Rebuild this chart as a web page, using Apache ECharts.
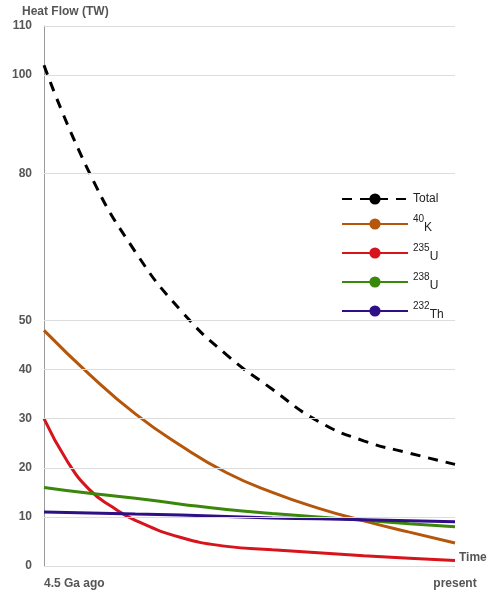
<!DOCTYPE html>
<html><head><meta charset="utf-8">
<script src="https://cdn.jsdelivr.net/npm/echarts@6/dist/echarts.min.js"></script>
<style>html,body{margin:0;background:#fff}#c{width:500px;height:598px}</style>
</head><body><div id="c"></div>
<script>
// time in Ga since 4.5 Ga ago
var tCoarse = [0, 0.5, 1, 1.5, 2, 2.5, 3, 3.5, 4, 4.5];
var total = [102, 80, 64, 52, 43, 36, 29.5, 25.5, 23, 20.7];
var k40 = [48, 39, 31, 24.5, 19, 15, 11.8, 9.2, 6.9, 4.7];
var tU235 = [0, 0.25, 0.5, 0.75, 1, 1.5, 2, 2.5, 3, 3.5, 4, 4.5];
var u235 = [30, 21.5, 15.5, 12, 9.3, 5.8, 4, 3.3, 2.7, 2.1, 1.6, 1.1];
var u238 = [16, 14.8, 13.8, 12.6, 11.5, 10.7, 10, 9.3, 8.6, 8];
var th232 = [11, 10.8, 10.6, 10.4, 10.1, 9.8, 9.6, 9.4, 9.2, 9];
var yTicks = [0, 10, 20, 30, 40, 50, 80, 100, 110];

function pairs(xs, ys) { return xs.map(function (x, i) { return [x, ys[i]]; }); }

var chart = echarts.init(document.getElementById('c'));
var rich = { sup: { fontSize: 10, verticalAlign: 'top', padding: [0, 0, 6, 0], color: '#222' },
  sub: { fontSize: 12, padding: [8, 0, 0, 0], color: '#222' }, n: { fontSize: 12, color: '#222' } };
var labels = { 'Total': '{n|Total}', 'K40': '{sup|40}{sub|K}', 'U235': '{sup|235}{sub|U}',
  'U238': '{sup|238}{sub|U}', 'Th232': '{sup|232}{sub|Th}' };

function line(name, data, color, dashed) {
  return { name: name, type: 'line', data: data, smooth: true, symbol: 'none',
    lineStyle: { color: color, width: 3, type: dashed ? [10, 8] : 'solid' }, itemStyle: { color: color } };
}
var series = [
  line('Total', pairs(tCoarse, total), '#000', true),
  line('K40', pairs(tCoarse, k40), '#b5560a'),
  line('U235', pairs(tU235, u235), '#d7141c'),
  line('U238', pairs(tCoarse, u238), '#3a870c'),
  line('Th232', pairs(tCoarse, th232), '#2e0f85')
];
series[0].markLine = { silent: true, symbol: 'none', label: { show: false },
  lineStyle: { color: '#ddd', width: 1, type: 'solid' },
  data: yTicks.map(function (v) { return { yAxis: v }; }) };

chart.setOption({
  animation: false,
  grid: { left: 44, right: 45, top: 26, bottom: 32 },
  legend: { orient: 'vertical', left: 336, top: 188, itemWidth: 66, itemHeight: 14, itemGap: 9,
    textStyle: { rich: rich },
    formatter: function (n) { return labels[n]; },
    data: ['Total', 'K40', 'U235', 'U238', 'Th232'] },
  xAxis: { type: 'value', min: 0, max: 4.5, interval: 4.5,
    name: 'Time', nameLocation: 'end', nameGap: 4,
    nameTextStyle: { fontWeight: 'bold', color: '#555', fontSize: 12, verticalAlign: 'bottom', padding: [0, 0, 2, 0] },
    axisLine: { show: false }, axisTick: { show: false }, splitLine: { show: false },
    axisLabel: { color: '#555', fontWeight: 'bold', fontSize: 12, margin: 12,
      alignMinLabel: 'left', alignMaxLabel: 'center', padding: [0, 0, 0, 0],
      formatter: function (v) { return v === 0 ? '4.5 Ga ago' : 'present'; } } },
  yAxis: { type: 'value', min: 0, max: 110, interval: 10,
    name: 'Heat Flow (TW)', nameLocation: 'end', nameGap: 8,
    nameTextStyle: { fontWeight: 'bold', color: '#555', fontSize: 12, align: 'left', padding: [0, 0, 0, -22] },
    axisLine: { show: true, lineStyle: { color: '#999' } }, axisTick: { show: false }, splitLine: { show: false },
    axisLabel: { color: '#555', fontWeight: 'bold', fontSize: 12, margin: 12,
      formatter: function (v) { return yTicks.indexOf(v) >= 0 ? String(v) : ''; } } },
  series: series
});
</script></body></html>
